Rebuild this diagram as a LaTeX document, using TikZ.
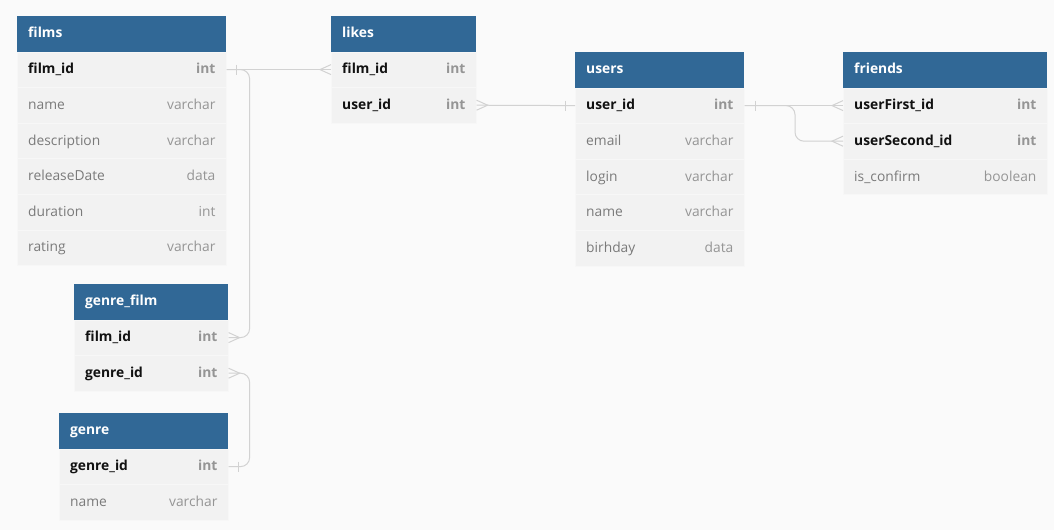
\documentclass[tikz,border=0pt]{standalone}
\usepackage{fontspec}
\setmainfont{Open Sans}
\definecolor{hdr}{HTML}{316896}
\definecolor{rowbg}{HTML}{F2F2F2}
\definecolor{bg}{HTML}{FAFAFA}
\definecolor{keyc}{HTML}{111111}
\definecolor{fieldc}{HTML}{7A7A7A}
\definecolor{typec}{HTML}{959595}
\definecolor{linec}{HTML}{D2D2D2}
\tikzset{
  hdrbox/.style={fill=hdr, draw=none, anchor=north west, minimum height=35.5pt, inner sep=0pt},
  rowbox/.style={fill=rowbg, draw=white!40!rowbg, line width=0.6pt, anchor=north west, minimum height=35.6pt, inner sep=0pt},
  titletxt/.style={text=white, font=\bfseries\fontsize{13.8}{16}\selectfont, inner sep=0pt, anchor=base west},
  keyname/.style={text=keyc, font=\bfseries\fontsize{13.8}{16}\selectfont, inner sep=0pt, anchor=base west},
  plainname/.style={text=fieldc, font=\fontsize{13.8}{16}\selectfont, inner sep=0pt, anchor=base west},
  keytype/.style={text=typec, font=\bfseries\fontsize{13.8}{16}\selectfont, inner sep=0pt, anchor=base east},
  plaintype/.style={text=typec, font=\fontsize{13.8}{16}\selectfont, inner sep=0pt, anchor=base east},
  conn/.style={draw=linec, line width=1pt},
}
% table header: id, x, y, width, title
\newcommand\ertbl[5]{%
  \node[hdrbox, minimum width=#4pt] (#1) at (#2,#3) {};
  \node[titletxt] (#1-t) at ([xshift=11pt,yshift=-3.6pt]#1.west) {#5};
}
% row: id, x, ytop, width, name, type, kind (key/plain)
\newcommand\errow[7]{%
  \node[rowbox, minimum width=#4pt] (#1) at (#2,#3) {};
  \node[#7name] (#1-n) at ([xshift=11pt,yshift=-4.2pt]#1.west) {#5};
  \node[#7type] (#1-ty) at ([xshift=-11pt,yshift=-4.2pt]#1.east) {#6};
}
\begin{document}
\begin{tikzpicture}[x=1pt, y=-1pt]
\useasboundingbox[fill=bg] (0,0) rectangle (1054,530);

% films
\ertbl{films}{17}{16}{209}{films}
\errow{films-film_id}{17}{51.5}{209}{film\_id}{int}{key}
\errow{films-name}{17}{87.1}{209}{name}{varchar}{plain}
\errow{films-description}{17}{122.7}{209}{description}{varchar}{plain}
\errow{films-releaseDate}{17}{158.3}{209}{releaseDate}{data}{plain}
\errow{films-duration}{17}{193.9}{209}{duration}{int}{plain}
\errow{films-rating}{17}{229.5}{209}{rating}{varchar}{plain}

% likes
\ertbl{likes}{331}{16}{145}{likes}
\errow{likes-film_id}{331}{51.5}{145}{film\_id}{int}{key}
\errow{likes-user_id}{331}{87.1}{145}{user\_id}{int}{key}

% users
\ertbl{users}{575}{52}{169}{users}
\errow{users-user_id}{575}{87.5}{169}{user\_id}{int}{key}
\errow{users-email}{575}{123.1}{169}{email}{varchar}{plain}
\errow{users-login}{575}{158.7}{169}{login}{varchar}{plain}
\errow{users-name}{575}{194.3}{169}{name}{varchar}{plain}
\errow{users-birhday}{575}{229.9}{169}{birhday}{data}{plain}

% friends
\ertbl{friends}{843}{52}{204}{friends}
\errow{friends-userFirst_id}{843}{87.5}{204}{userFirst\_id}{int}{key}
\errow{friends-userSecond_id}{843}{123.1}{204}{userSecond\_id}{int}{key}
\errow{friends-is_confirm}{843}{158.7}{204}{is\_confirm}{boolean}{plain}

% genre_film
\ertbl{genre_film}{74}{284}{154}{genre\_film}
\errow{genre_film-film_id}{74}{319.5}{154}{film\_id}{int}{key}
\errow{genre_film-genre_id}{74}{355.1}{154}{genre\_id}{int}{key}

% genre
\ertbl{genre}{59}{413}{169}{genre}
\errow{genre-genre_id}{59}{448.5}{169}{genre\_id}{int}{key}
\errow{genre-name}{59}{484.1}{169}{name}{varchar}{plain}

% ---- connectors ----
% films.film_id -> likes.film_id
\draw[conn] (films-film_id.east) -- (likes-film_id.west);
\draw[conn] ([xshift=10pt,yshift=5pt]films-film_id.east) -- ([xshift=10pt,yshift=-5pt]films-film_id.east);
\draw[conn] ([yshift=5pt]likes-film_id.west) -- ([xshift=-11pt]likes-film_id.west) -- ([yshift=-5pt]likes-film_id.west);

% films.film_id -> genre_film.film_id
\draw[conn, rounded corners=9pt] (films-film_id.east) -| ([xshift=21pt]genre_film-film_id.east) -- (genre_film-film_id.east);
\draw[conn] ([yshift=5pt]genre_film-film_id.east) -- ([xshift=11pt]genre_film-film_id.east) -- ([yshift=-5pt]genre_film-film_id.east);

% genre_film.genre_id -> genre.genre_id
\draw[conn, rounded corners=9pt] (genre_film-genre_id.east) -| ([xshift=21pt]genre-genre_id.east) -- (genre-genre_id.east);
\draw[conn] ([yshift=5pt]genre_film-genre_id.east) -- ([xshift=11pt]genre_film-genre_id.east) -- ([yshift=-5pt]genre_film-genre_id.east);
\draw[conn] ([xshift=10pt,yshift=5pt]genre-genre_id.east) -- ([xshift=10pt,yshift=-5pt]genre-genre_id.east);

% likes.user_id -> users.user_id
\draw[conn] (likes-user_id.east) -- (users-user_id.west);
\draw[conn] ([yshift=5pt]likes-user_id.east) -- ([xshift=11pt]likes-user_id.east) -- ([yshift=-5pt]likes-user_id.east);
\draw[conn] ([xshift=-10pt,yshift=5pt]users-user_id.west) -- ([xshift=-10pt,yshift=-5pt]users-user_id.west);

% users.user_id -> friends
\draw[conn] (users-user_id.east) -- (friends-userFirst_id.west);
\draw[conn, rounded corners=9pt] (users-user_id.east) -| ([xshift=-48pt]friends-userSecond_id.west) -- (friends-userSecond_id.west);
\draw[conn] ([xshift=11pt,yshift=5pt]users-user_id.east) -- ([xshift=11pt,yshift=-5pt]users-user_id.east);
\draw[conn] ([yshift=5pt]friends-userFirst_id.west) -- ([xshift=-11pt]friends-userFirst_id.west) -- ([yshift=-5pt]friends-userFirst_id.west);
\draw[conn] ([yshift=5pt]friends-userSecond_id.west) -- ([xshift=-11pt]friends-userSecond_id.west) -- ([yshift=-5pt]friends-userSecond_id.west);
\end{tikzpicture}
\end{document}
